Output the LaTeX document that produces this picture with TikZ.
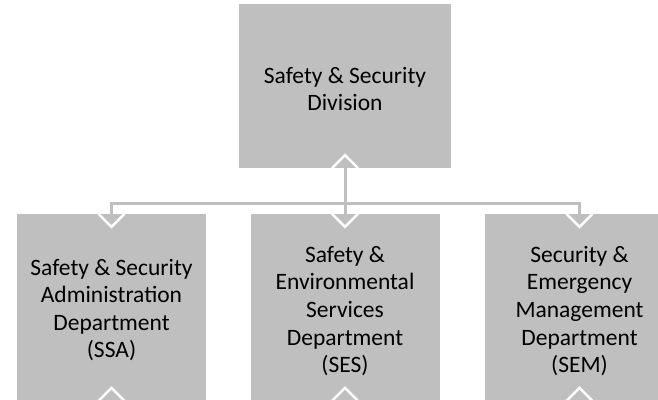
\documentclass[tikz,border=0pt]{standalone}
\usepackage{fontspec}
\setmainfont{Carlito}
\definecolor{boxgray}{HTML}{BFBFBF}
\definecolor{linegray}{HTML}{BFBFBF}
\definecolor{txt}{HTML}{000000}
\tikzset{
  unitbox/.style={fill=boxgray, draw=none, inner sep=0pt, align=center, text=txt,
    font=\fontsize{23.5}{27.6}\selectfont},
  topbox/.style={unitbox, minimum width=212pt, minimum height=164pt},
  deptbox/.style={unitbox, minimum width=189pt, minimum height=200pt},
  depttext/.style={align=center, text=txt, font=\fontsize{23.5}{27.6}\selectfont},
  conn/.style={draw=linegray, line width=3pt},
  chev/.style={draw=white, line width=2.5pt, line join=miter},
}
\begin{document}
\begin{tikzpicture}[x=1pt,y=-1pt]
\useasboundingbox (0,0) rectangle (658,399);
\begin{scope}
\clip (0,0) rectangle (658,399);
\node[topbox] (div) at (345,86) {};
\node[depttext] (divt) at (345,89) {Safety \& Security\\Division};
\node[deptbox] (ssa) at (111.5,314) {};
\node[deptbox] (ses) at (345,314) {};
\node[deptbox] (sem) at (579.5,314) {};
\node[depttext] (ssat) at (111.5,310) {Safety \& Security\\Administration\\Department\\(SSA)};
\node[depttext] (sest) at (345,311) {Safety \&\\Environmental\\Services\\Department\\(SES)};
\node[depttext] (semt) at (579.5,311) {Security \&\\Emergency\\Management\\Department\\(SEM)};
\coordinate (bus) at (345,203);
% connectors
\draw[conn] (ssa.north) |- (bus) -| (sem.north);
\draw[conn] ([yshift=11pt]div.south) -- (ses.north);
% chevron tips
\draw[chev] ([xshift=-13pt]div.south) -- ([yshift=13pt]div.south) -- ([xshift=13pt]div.south);
\foreach \n in {ssa,ses,sem}{
  \draw[chev] ([xshift=-13pt]\n.north) -- ([yshift=-13pt]\n.north) -- ([xshift=13pt]\n.north);
  \draw[chev] ([xshift=-13pt,yshift=-187pt]\n.north) -- ([yshift=-174pt]\n.north) -- ([xshift=13pt,yshift=-187pt]\n.north);
}
\end{scope}
\end{tikzpicture}
\end{document}
